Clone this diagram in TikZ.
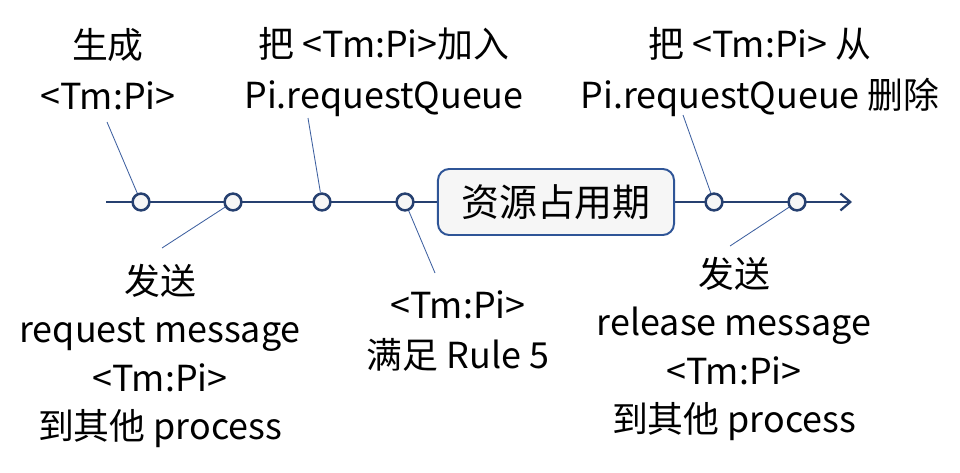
\documentclass[tikz,border=0pt]{standalone}
\usepackage{fontspec}
\setmainfont{Noto Sans CJK SC}
\usetikzlibrary{arrows.meta}

\definecolor{axisblue}{RGB}{38,64,112}
\definecolor{leadblue}{RGB}{62,96,160}
\definecolor{boxblue}{RGB}{47,85,151}
\definecolor{softgray}{RGB}{246,246,246}

\begin{document}
\begin{tikzpicture}[
		x=0.025cm, y=-0.025cm,
		% Timeline and its event dots
		axis/.style={draw=axisblue, line width=2pt, -{Straight Barb[length=7pt, width=12pt, line width=1.6pt]}},
		evt/.style={circle, draw=axisblue, line width=1.8pt, fill=softgray, minimum size=0.42cm, inner sep=0pt},
		% Thin leader lines to the notes
		lead/.style={draw=leadblue, line width=0.6pt},
		% Box for the occupied period
		period/.style={draw=boxblue, line width=1.4pt, fill=softgray, rounded corners=8pt,
			minimum width=5.9cm, minimum height=1.65cm, font=\fontsize{27}{30}\selectfont},
		% Notes
		note/.style={align=center, font=\fontsize{25.5}{36}\selectfont, inner sep=0pt},
		notelow/.style={align=center, font=\fontsize{25.5}{34.5}\selectfont, inner sep=0pt}
	]
	\useasboundingbox (0,0) rectangle (960,473);

	% ==============================================================================
	% Time line
	% ==============================================================================
	\coordinate (start) at (106,202);
	\coordinate (end) at (852,202);
	\draw[axis] (start) -- (end);

	\node[evt] (c1) at (141,202) {};
	\node[evt] (c2) at (233,202) {};
	\node[evt] (c3) at (322,202) {};
	\node[evt] (c4) at (405,202) {};
	\node[period] (hold) at (556,202) {资源占用期};
	\node[evt] (c5) at (714,202) {};
	\node[evt] (c6) at (797,202) {};

	% ==============================================================================
	% Notes above
	% ==============================================================================
	\node[note] (n1) at (108,69) {生成\\<Tm:Pi>};
	\node[note] (n3) at (384,72) {把 <Tm:Pi>加入\\Pi.requestQueue};
	\node[note] (n5) at (760,72) {把 <Tm:Pi> 从\\Pi.requestQueue 删除};

	% Notes below
	\node[notelow] (n2) at (160,356) {发送\\request message\\<Tm:Pi>\\到其他 process};
	\node[note] (n4) at (458,331) {<Tm:Pi>\\满足 Rule 5};
	\node[notelow] (n6) at (734,349) {发送\\release message\\<Tm:Pi>\\到其他 process};

	% Leader lines
	\coordinate (t1) at (107,122);
	\coordinate (t2) at (162,248);
	\coordinate (t3) at (308,118);
	\coordinate (t4) at (435,273);
	\coordinate (t5) at (683,115);
	\coordinate (t6) at (730,246);
	\draw[lead] (t1) -- (c1);
	\draw[lead] (t2) -- (c2);
	\draw[lead] (t3) -- (c3);
	\draw[lead] (t4) -- (c4);
	\draw[lead] (t5) -- (c5);
	\draw[lead] (t6) -- (c6);
\end{tikzpicture}
\end{document}
